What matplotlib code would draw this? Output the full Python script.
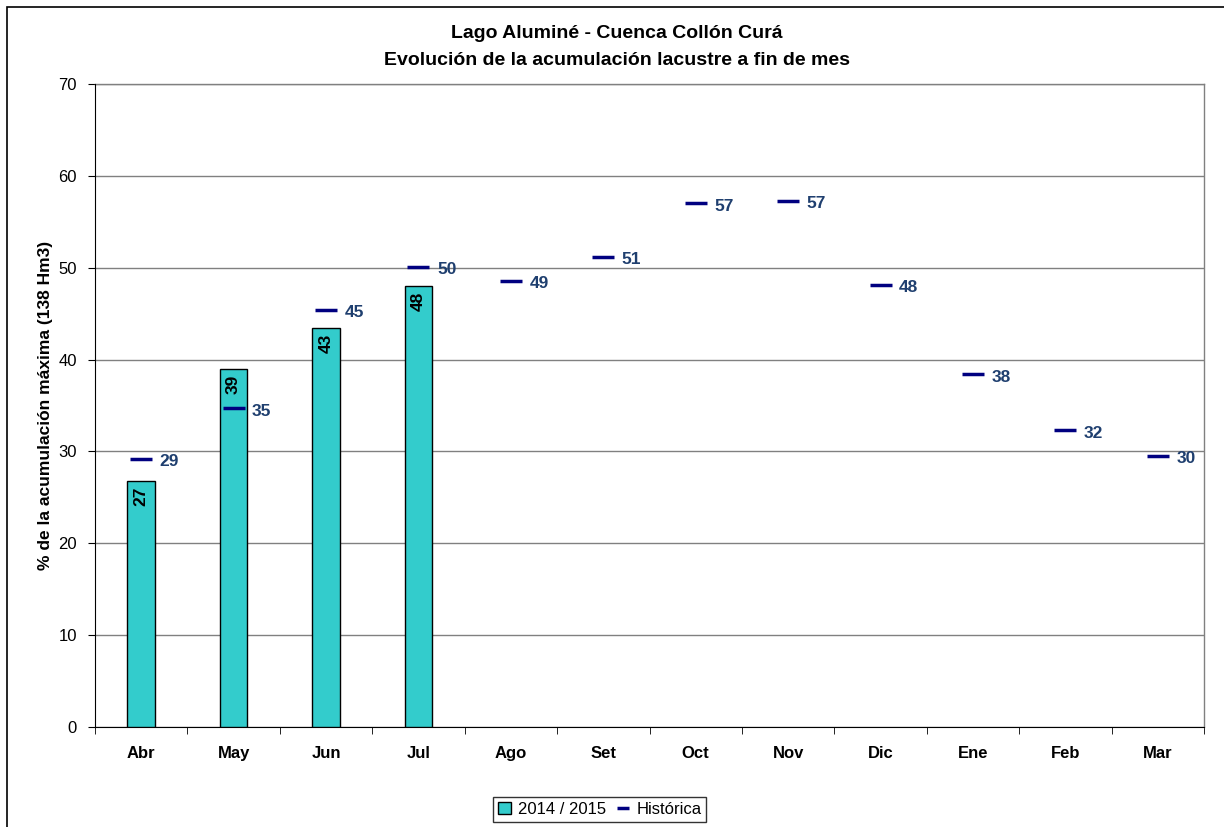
import numpy as np
import matplotlib
matplotlib.use("Agg")
import matplotlib.pyplot as plt
from matplotlib.patches import Rectangle

plt.rcParams['font.family'] = ['Liberation Sans', 'DejaVu Sans']

meses = ["Abr", "May", "Jun", "Jul", "Ago", "Set", "Oct", "Nov", "Dic", "Ene", "Feb", "Mar"]
actual = [26.8, 39.0, 43.4, 48.0]          # 2014 / 2015
historica = [29.2, 34.7, 45.4, 50.1, 48.6, 51.2, 57.0, 57.3, 48.1, 38.4, 32.3, 29.5]

fig = plt.figure(figsize=(12.24, 8.27), dpi=100)
ax = fig.add_axes([95/1224, 100/827, 1109/1224, 643/827])

# marco exterior
fig.patches.append(Rectangle((7/1224, -0.01), 1.5, 1 - 7/827 + 0.01, transform=fig.transFigure,
                             fill=False, edgecolor='black', lw=1.2))

x = np.arange(len(meses))
bars = ax.bar(x[:len(actual)], actual, width=0.3, color='#33CCCC', edgecolor='black',
              lw=1.0, zorder=3, label='2014 / 2015')
hist, = ax.plot(x, historica, ls='none', marker='_', ms=16, mew=2.5, color='#000080', zorder=4,
                label='Histórica')

for xi, v in zip(x[:len(actual)], actual):
    ax.text(xi, v - 0.6, f"{v:.0f}", rotation=90, ha='center', va='top',
            fontsize=12.5, fontweight='bold', color='black', zorder=5)
for xi, v in zip(x, historica):
    ax.text(xi + 0.2, v - 0.3, f"{v:.0f}", ha='left', va='center',
            fontsize=12.5, fontweight='bold', color='#1F3F6F', zorder=5)

ax.set_xlim(-0.5, len(meses) - 0.5)
ax.set_ylim(0, 70)
ax.set_yticks(range(0, 71, 10))
ax.set_xticks(x)
ax.set_xticklabels(meses, fontsize=12, fontweight='bold')
ax.set_xticks(np.arange(-0.5, len(meses), 1), minor=True)
ax.tick_params(axis='x', which='major', length=0, pad=14)
ax.tick_params(axis='x', which='minor', length=5, direction='out')
ax.tick_params(axis='y', labelsize=12, length=5, direction='out', pad=8)
ax.yaxis.grid(True, color='#808080', lw=1.0, zorder=0)
ax.set_axisbelow(True)
for s in ['top', 'right']:
    ax.spines[s].set_visible(False)
ax.spines['left'].set_color('black')
ax.spines['bottom'].set_color('black')
ax.plot([1, 1], [0, 1], transform=ax.transAxes, color='#808080', lw=1.0, clip_on=False)
ax.plot([0, 1], [1, 1], transform=ax.transAxes, color='#808080', lw=1.0, clip_on=False)

ax.set_ylabel("% de la acumulación máxima (138 Hm3)", fontsize=12.5, fontweight='bold', labelpad=4)

fig.text(0.504, 0.96, "Lago Aluminé - Cuenca Collón Curá", ha='center', va='center',
         fontsize=14, fontweight='bold')
fig.text(0.504, 0.927, "Evolución de la acumulación lacustre a fin de mes", ha='center',
         va='center', fontsize=14, fontweight='bold')

leg = fig.legend([bars, hist], ['2014 / 2015', 'Histórica'], loc='center',
                 bbox_to_anchor=(0.49, 0.021), ncol=2,
                 frameon=True, fancybox=False, edgecolor='black', fontsize=12,
                 handlelength=0.8, handletextpad=0.4, columnspacing=0.6, borderpad=0.3,
                 markerscale=0.5)
leg.get_frame().set_linewidth(1.0)

fig.savefig("out.png", dpi=100)
